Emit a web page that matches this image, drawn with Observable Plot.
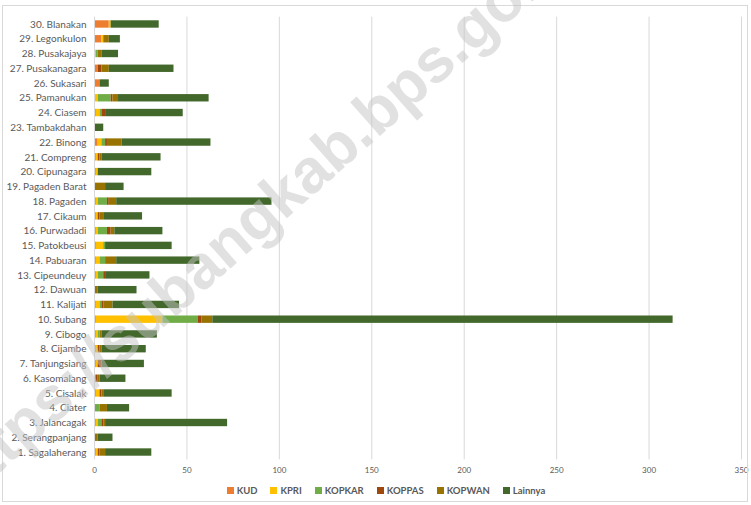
<!DOCTYPE html>
<html>
<head>
<meta charset="utf-8">
<script src="https://cdn.jsdelivr.net/npm/d3@7"></script>
<script src="https://cdn.jsdelivr.net/npm/@observablehq/plot@0.6"></script>
<style>
  html, body { margin: 0; padding: 0; background: #fff; }
  #wrap { position: relative; width: 751px; height: 505px; overflow: hidden; font-family: Lato, "Open Sans", sans-serif; }
  #frame { position: absolute; left: 2px; top: 5px; width: 746px; height: 497px; border: 1px solid #d9d9d9; box-sizing: border-box; pointer-events: none; }
  #chart { position: absolute; left: 0; top: 0; }
  #legend { position: absolute; top: 485px; left: 0; width: 772px; display: flex; justify-content: center; gap: 13px; font-size: 9.5px; font-weight: 700; color: #595959; }
  #legend .item { display: flex; align-items: center; gap: 3px; }
  #legend .sw { width: 7px; height: 7px; display: inline-block; }
  #wm { position: absolute; left: 0; top: 0; pointer-events: none; }
</style>
</head>
<body>
<div id="wrap">
  <div id="chart"></div>
  <div id="frame"></div>
  <div id="legend"></div>
  <svg id="wm" width="751" height="505"><text transform="translate(-36,504) rotate(-41.5)" font-family="Liberation Sans, Arial, sans-serif" font-weight="700" font-size="62" fill="rgba(195,195,195,0.5)">https://subangkab.bps.go.id</text></svg>
</div>
<script>
const categories = ["1. Sagalaherang","2. Serangpanjang","3. Jalancagak","4. Ciater","5. Cisalak","6. Kasomalang","7. Tanjungsiang","8. Cijambe","9. Cibogo","10. Subang","11. Kalijati","12. Dawuan","13. Cipeundeuy","14. Pabuaran","15. Patokbeusi","16. Purwadadi","17. Cikaum","18. Pagaden","19. Pagaden Barat","20. Cipunagara","21. Compreng","22. Binong","23. Tambakdahan","24. Ciasem","25. Pamanukan","26. Sukasari","27. Pusakanagara","28. Pusakajaya","29. Legonkulon","30. Blanakan"];
const seriesNames = ["KUD","KPRI","KOPKAR","KOPPAS","KOPWAN","Lainnya"];
const seriesColors = ["#ED7D31","#FFC000","#70AD47","#9E480E","#997300","#43682B"];
const kud     = [1,0,1,0,1,1,1,1,1,1, 1,0,1,1,1,1,1,1,0,1, 1,2,0,1,0,3,2,0,4,8];
const kpri    = [1,0,1,0,2,0,1,1,1,36, 2,0,1,2,4,1,1,1,0,1, 1,2,0,2,2,0,0,1,1,1];
const kopkar  = [0,0,2,3,0,0,0,0,1,19, 1,0,3,3,1,5,0,5,0,0, 0,2,0,1,7,0,0,1,0,0];
const koppas  = [1,0,1,0,1,1,2,1,0,2, 1,0,1,0,0,2,1,1,0,0, 1,1,0,2,1,0,2,0,0,0];
const kopwan  = [3,2,1,4,1,1,0,1,1,6, 5,2,0,6,0,2,2,4,6,0, 1,8,0,0,3,0,4,2,3,0];
const lainnya = [25,8,66,12,37,14,23,24,30,249, 36,21,24,45,36,26,21,84,10,29, 32,48,5,42,49,5,35,9,6,26];
const xTicks = [0,50,100,150,200,250,300,350];

const seriesValues = [kud, kpri, kopkar, koppas, kopwan, lainnya];
const rows = [];
categories.forEach((c, i) => {
  seriesNames.forEach((s, j) => {
    rows.push({category: c, series: s, value: seriesValues[j][i]});
  });
});

const plot = Plot.plot({
  width: 751,
  height: 478,
  marginLeft: 94,
  marginRight: 10,
  marginTop: 16.6,
  marginBottom: 18.6,
  style: {fontFamily: "Lato, 'Open Sans', sans-serif", background: "transparent"},
  x: {domain: [0, 350], axis: null},
  y: {domain: categories.slice().reverse(), paddingInner: 0.5, paddingOuter: 0.25, round: false, axis: null},
  color: {domain: seriesNames, range: seriesColors},
  marks: [
    Plot.gridX(xTicks.slice(1), {stroke: "#d9d9d9", strokeOpacity: 1, strokeWidth: 1}),
    Plot.barX(rows, Plot.stackX({y: "category", x: "value", fill: "series", order: seriesNames})),
    Plot.ruleX([0], {stroke: "#d9d9d9", strokeWidth: 1}),
    Plot.axisY({tickSize: 0, tickPadding: 8, fontSize: 10, color: "#595959", label: null}),
    Plot.axisX({ticks: xTicks, tickSize: 0, tickPadding: 7, fontSize: 8, color: "#595959", label: null})
  ]
});
document.getElementById("chart").appendChild(plot);

const legend = document.getElementById("legend");
seriesNames.forEach((s, j) => {
  const it = document.createElement("span");
  it.className = "item";
  const sw = document.createElement("span");
  sw.className = "sw";
  sw.style.background = seriesColors[j];
  const tx = document.createElement("span");
  tx.textContent = s;
  it.appendChild(sw);
  it.appendChild(tx);
  legend.appendChild(it);
});
</script>
</body>
</html>
